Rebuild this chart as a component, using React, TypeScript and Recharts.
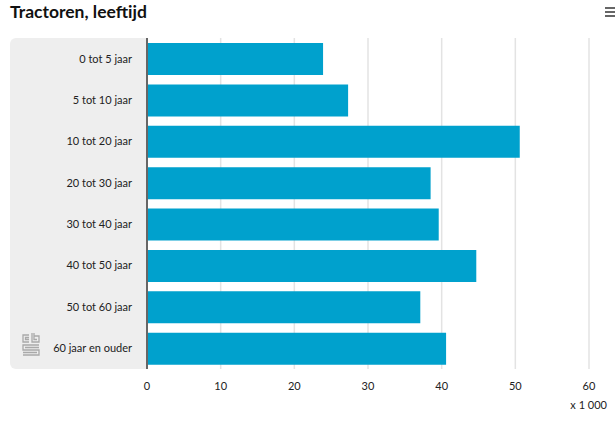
import React from "react";
import { Bar, BarChart, CartesianGrid, XAxis, YAxis } from "recharts";

// Tractoren naar leeftijd, aantallen x 1 000.

const categories = [
  "0 tot 5 jaar",
  "5 tot 10 jaar",
  "10 tot 20 jaar",
  "20 tot 30 jaar",
  "30 tot 40 jaar",
  "40 tot 50 jaar",
  "50 tot 60 jaar",
  "60 jaar en ouder",
];
const aantallen = [23.9, 27.3, 50.6, 38.5, 39.6, 44.7, 37.1, 40.6];
const xTicks = [0, 10, 20, 30, 40, 50, 60];

const data = categories.map((name, i) => ({ name, value: aantallen[i] }));

const FONT = "Lato, 'Open Sans', sans-serif";

function CbsLogo() {
  return (
    <svg
      width={20}
      height={25}
      viewBox="0 0 20 25"
      style={{ position: "absolute", left: 21, top: 332 }}
    >
      <g fill="none" stroke="#a9a9a9" strokeWidth={1.3}>
        <path d="M8 3 H2 V10 H8 M8 5.5 H4.5 V7.5 H8" />
        <path d="M11 1 V10 H18 V4 H13 M13 1 V7.5 H16" />
        <path d="M18 13 H2 V18 H18 V23 H2" />
        <path d="M4 15.5 H18 M2 20.5 H16" />
      </g>
    </svg>
  );
}

export default function App() {
  return (
    <div
      style={{
        position: "fixed",
        left: 0,
        top: 0,
        width: 615,
        height: 432,
        background: "#fff",
        fontFamily: FONT,
      }}
    >
      <div
        style={{
          position: "absolute",
          left: 10,
          top: 0,
          fontSize: 17.5,
          fontWeight: 700,
          color: "#111",
          lineHeight: "24px",
        }}
      >
        Tractoren, leeftijd
      </div>
      <div style={{ position: "absolute", left: 605, top: 7, width: 10 }}>
        {[0, 4, 8].map((t) => (
          <div
            key={t}
            style={{
              position: "absolute",
              top: t,
              width: 10,
              height: 2,
              background: "#666",
            }}
          />
        ))}
      </div>
      {/* grey panel behind the category labels */}
      <div
        style={{
          position: "absolute",
          left: 10,
          top: 38,
          width: 138,
          height: 331,
          background: "#eeeeee",
          borderRadius: "6px 0 0 6px",
        }}
      />
      <CbsLogo />
      <div style={{ position: "absolute", left: 0, top: 0 }}>
        <BarChart
          width={615}
          height={432}
          data={data}
          layout="vertical"
          margin={{ top: 38, right: 26, left: 10, bottom: 33 }}
        >
          <CartesianGrid horizontal={false} stroke="#e3e3e3" strokeWidth={1.5} />
          <XAxis
            type="number"
            domain={[0, 60]}
            ticks={xTicks}
            axisLine={false}
            tickLine={false}
            tickSize={6}
            tickMargin={7}
            height={30}
            tick={{ fontSize: 11, fill: "#222", fontFamily: FONT }}
          />
          <YAxis
            type="category"
            dataKey="name"
            width={137}
            axisLine={{ stroke: "#666", strokeWidth: 2 }}
            tickLine={false}
            tickSize={8}
            tickMargin={7}
            tick={{ fontSize: 11, fill: "#222", fontFamily: FONT }}
          />
          <Bar
            dataKey="value"
            fill="#00a1cd"
            barSize={32}
            isAnimationActive={false}
          />
        </BarChart>
      </div>
      <div
        style={{
          position: "absolute",
          right: 8,
          top: 398,
          fontSize: 11,
          color: "#222",
        }}
      >
        x 1 000
      </div>
    </div>
  );
}
